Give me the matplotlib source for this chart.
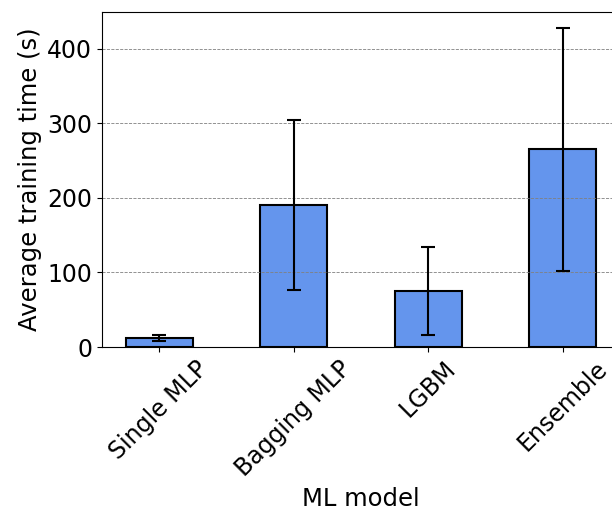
import matplotlib
matplotlib.use("Agg")
import matplotlib.pyplot as plt

# average training time per model, with std as error bars
models = ["Single MLP", "Bagging MLP", "LGBM", "Ensemble"]
mean_time = [12, 190, 75, 265]
std_time = [4, 114, 59, 163]

fig = plt.figure(figsize=(6.12, 5.15), dpi=100)
# axes runs a bit past the right edge, like the original crop
ax = fig.add_axes([0.1667, 0.3262, 0.846, 0.6505])

ax.bar(models, mean_time, width=0.5, color="cornflowerblue",
       edgecolor="black", linewidth=1.5,
       yerr=std_time, capsize=5, error_kw={"elinewidth": 1.5, "capthick": 1.5})

ax.yaxis.grid(True, linestyle="--", color="gray", linewidth=0.6)
ax.set_xlabel("ML model", fontsize=17.5)
ax.set_ylabel("Average training time (s)", fontsize=17.5)
ax.tick_params(axis="both", labelsize=17)
plt.setp(ax.get_xticklabels(), rotation=45)

fig.savefig("out.png", dpi=100)
